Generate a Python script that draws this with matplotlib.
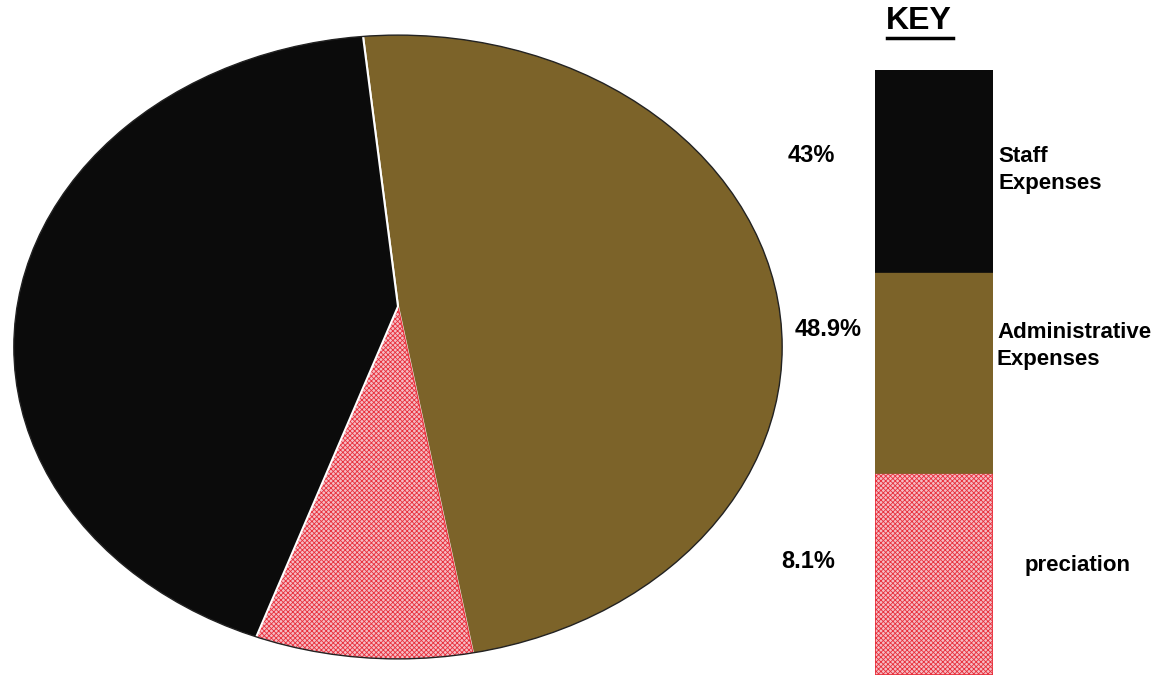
import matplotlib.pyplot as plt
from matplotlib.patches import Ellipse

plt.rcParams['font.family'] = ['Liberation Sans', 'DejaVu Sans']
plt.rcParams['hatch.linewidth'] = 0.6

# data
categories = ['Staff\nExpenses', 'Administrative\nExpenses', 'preciation']
values = [43.0, 48.9, 8.1]
pct_labels = ['43%', '48.9%', '8.1%']
colors = ['#0b0b0b', '#7c6329', '#f5bcc4']

W, H = 1167, 675
fig = plt.figure(figsize=(W / 100, H / 100), dpi=100)

# pie, stretched into an ellipse; apex sits a bit above the ellipse centre
ax = fig.add_axes([10 / W, 1 - 662 / H, 776 / W, 630 / H])

order = [1, 2, 0]  # brown, pink, black going clockwise from the top
wedges, _ = ax.pie([values[i] for i in order], colors=[colors[i] for i in order],
                   startangle=96, counterclock=False, radius=1.4, center=(0, 0.13),
                   wedgeprops=dict(edgecolor='white', linewidth=1.5))
ax.set_xlim(-1.01, 1.01)
ax.set_ylim(-1.01, 1.01)
ax.set_aspect('auto')
ax.axis('off')

clip = Ellipse((0, 0), 2, 2, facecolor='none', edgecolor='none')
ax.add_patch(clip)
for w, i in zip(wedges, order):
    w.set_clip_on(True)
    w.set_clip_path(clip)
    if i == 2:
        w.set_hatch('xxxxxxx')
        w.set_edgecolor('#e8303c')
        w.set_linewidth(0.8)
# thin dark rim
ax.add_patch(Ellipse((0, 0), 2, 2, facecolor='none', edgecolor='#222222', linewidth=1.0,
                     clip_on=False))

# key
kax = fig.add_axes([875 / W, 0, 118 / W, 605 / H])
for pos, i in enumerate([2, 1, 0]):
    b = kax.bar(0, 1, bottom=pos, width=1, color=colors[i],
                edgecolor='#e8303c' if i == 2 else colors[i], linewidth=1.2)
    if i == 2:
        b[0].set_hatch('xxxxxxx')
kax.set_xlim(-0.5, 0.5)
kax.set_ylim(0, 3)
kax.axis('off')

def px(x, y):
    return x / W, 1 - y / H

fig.text(*px(919, 21), 'KEY', fontsize=23, fontweight='bold', ha='center', va='center')
fig.add_artist(plt.Line2D([887 / W, 953 / W], [1 - 38 / H, 1 - 38 / H], color='black', lw=2.5))

label_y = [170, 346, 565]
label_x = [998, 997, 1025]
pct_xy = [(811, 156), (828, 329), (808, 562)]
for i in range(3):
    fig.text(*px(label_x[i], label_y[i]), categories[i], fontsize=16, fontweight='bold',
             ha='left', va='center', linespacing=1.4)
    fig.text(*px(*pct_xy[i]), pct_labels[i], fontsize=17, fontweight='bold',
             ha='center', va='center')

fig.savefig('out.png', dpi=100)
